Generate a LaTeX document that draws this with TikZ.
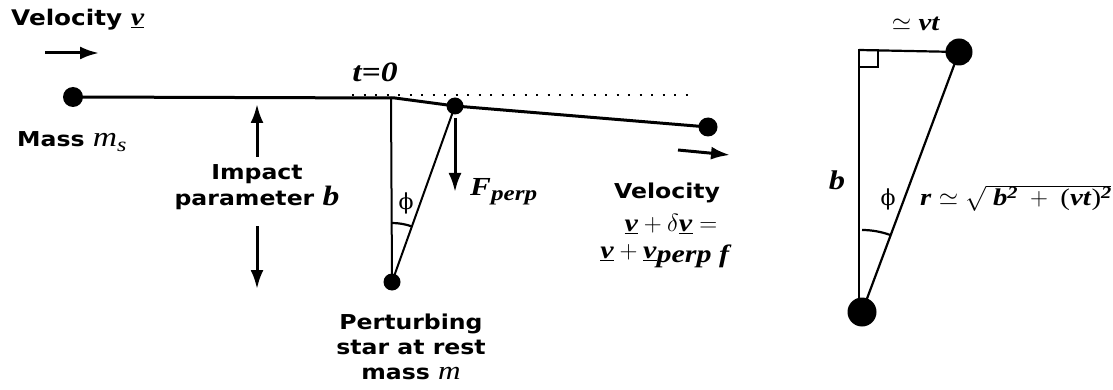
\documentclass[tikz,border=0pt]{standalone}
\usepackage{fontspec}
\setmainfont{Liberation Serif}[FakeStretch=1.2]
\newfontfamily\sansb{DejaVu Sans}[FakeStretch=1.15]
\newfontfamily\greekf{DejaVu Serif}
\usetikzlibrary{arrows.meta,calc}
\newcommand{\bi}[1]{\textbf{\textit{#1}}}
\newcommand{\uvec}[1]{\underline{\bi{#1}}}
\tikzset{
  dot/.style={circle, fill=black, inner sep=0pt},
  traj/.style={line width=3pt},
  thin line/.style={line width=2pt},
  arr/.style={line width=3pt, -{Latex[length=19pt,width=13pt]}},
  slab/.style={font=\sansb\bfseries\fontsize{20.5}{26}\selectfont, align=center, inner sep=0pt},
  mlab/.style={font=\fontsize{25}{26}\selectfont, inner sep=0pt},
  philab/.style={font=\greekf\fontsize{22}{24}\selectfont, inner sep=0pt}
}
\begin{document}
\begin{tikzpicture}[x=1pt,y=-1pt]
\useasboundingbox (0,0) rectangle (1113,390);
% left diagram
\node[slab, anchor=west, font=\sansb\bfseries\fontsize{21.5}{26}\selectfont] (vlab) at (11,20) {Velocity \normalfont\fontsize{25}{26}\selectfont$\uvec{v}$};
\coordinate (a1s) at (45,53); \coordinate (a1e) at (99,53);
\draw[arr] (a1s) -- (a1e);
\node[dot, minimum size=20pt] (ms) at (73,97) {};
\node[slab, anchor=west] (mslab) at (17,142) {Mass \normalfont\fontsize{28}{26}\selectfont\textit{m}\raisebox{-5pt}{\fontsize{20}{20}\selectfont\textit{s}}};
\coordinate (bend) at (395,98);
\node[dot, minimum size=17pt] (p) at (455,106) {};
\node[dot, minimum size=19pt] (end) at (708,127) {};
\draw[traj] (ms.center) -- (bend) -- (p.center) -- (end.center);
\coordinate (d1) at (352,95); \coordinate (d2) at (690,95);
\draw[line width=2pt, dash pattern=on 2pt off 9.5pt] (d1) -- (d2);
\node[mlab, font=\fontsize{28}{30}\selectfont] (t0) at (375,72) {\bi{t=0}};
\node[dot, minimum size=17pt] (star) at (392,282) {};
\coordinate (vtop) at (391,97);
\draw[thin line] (vtop) -- (star.center);
\draw[thin line] (star.center) -- (p.center);
\draw[line width=2.2pt] ($(star.center)+(90:59pt)$) arc[start angle=90, end angle=70, radius=59pt];
\node[philab] (phi1) at (406,203) {ϕ};
\coordinate (fs) at (455,118); \coordinate (fe) at (455,192);
\draw[arr] (fs) -- (fe);
\node[anchor=west, inner sep=0pt] (flab) at (470,192) {\fontsize{26}{30}\selectfont\bi{F}\raisebox{-5pt}{\fontsize{21}{22}\selectfont\bi{perp}}};
% impact parameter
\coordinate (i1s) at (257,157); \coordinate (i1e) at (257,104);
\coordinate (i2s) at (257,226); \coordinate (i2e) at (257,289);
\draw[arr] (i1s) -- (i1e);
\draw[arr] (i2s) -- (i2e);
\node[slab] (imp) at (257,187) {Impact\\parameter \normalfont\fontsize{28}{26}\selectfont\bi{b}};
% perturbing star label
\node[slab, font=\sansb\bfseries\fontsize{20.5}{25}\selectfont] (pslab) at (411,347) {Perturbing\\star at rest\\mass \normalfont\fontsize{26}{25}\selectfont\textit{m}};
% right velocity
\coordinate (r1s) at (678,150); \coordinate (r1e) at (730,155);
\draw[arr] (r1s) -- (r1e);
\node[slab] (vel2) at (667,193) {Velocity};
\node[mlab] (vel3) at (671,224) {$\uvec{v} + \delta\uvec{v} =$};
\node[mlab] (vel4) at (666,256) {$\uvec{v} + \uvec{v}$\raisebox{-4pt}{\bi{perp f}}};
% right diagram
\coordinate (C) at (859,50);
\node[dot, minimum size=27pt] (T) at (959,52) {};
\node[dot, minimum size=29pt] (B) at (862,312) {};
\coordinate (Cb) at (859,305);
\draw[line width=2.2pt] (C) -- (T.center);
\draw[line width=2.2pt] (C) -- (Cb);
\draw[line width=1.8pt] (C) rectangle ++(19,17);
\draw[line width=2.2pt] (B.center) -- (T.center);
\draw[line width=2.2pt] ($(B.center)+(90:82pt)$) arc[start angle=90, end angle=70, radius=82pt];
\node[mlab, font=\fontsize{24}{26}\selectfont] (vt) at (916,24) {$\simeq$ \bi{vt}};
\node[mlab, font=\fontsize{27}{26}\selectfont] (blab) at (837,180) {\bi{b}};
\node[philab] (phi2) at (888,199) {ϕ};
\node[mlab, anchor=west, font=\fontsize{24}{26}\selectfont] (rlab) at (920,198) {\bi{r} $\simeq$ $\sqrt{\;\mbox{\bi{b}\raisebox{7pt}{\fontsize{17}{17}\selectfont\bi{2}}}\;+\;\mbox{(\bi{vt})\raisebox{7pt}{\fontsize{17}{17}\selectfont\bi{2}}}}$};
\end{tikzpicture}
\end{document}
